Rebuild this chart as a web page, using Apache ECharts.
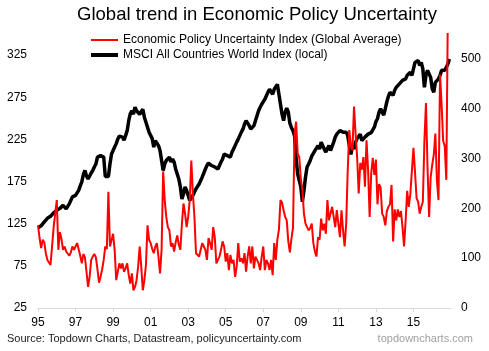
<!DOCTYPE html>
<html><head><meta charset="utf-8">
<script src="https://cdn.jsdelivr.net/npm/echarts@6/dist/echarts.min.js"></script>
<style>html,body{margin:0;padding:0;background:#fff}#c{width:489px;height:351px}</style>
</head><body><div id="c"></div>
<script>
// Monthly data, Jan 1995 – Dec 2016
const startYear = 1995;
const endYear = 2017;
const titleText = 'Global trend in Economic Policy Uncertainty';
const epuName = 'Economic Policy Uncertainty Index (Global Average)';
const msciName = 'MSCI All Countries World Index (local)';
const sourceText = 'Source: Topdown Charts, Datastream, policyuncertainty.com';
const brandText = 'topdowncharts.com';

// Economic Policy Uncertainty Index (left axis)
const epu = [
  123,108,96,106,103,90,82,80,76,98,121,121,        // 1995
  153,94,115,107,94,98,92,92,87,91,98,94,           // 1996
  98,102,100,87,78,89,85,68,50,62,82,86,            // 1997
  89,85,71,55,62,71,82,98,95,163,98,96,             // 1998
  113,94,58,56,78,72,78,68,72,78,64,54,             // 1999
  66,46,50,58,74,98,74,46,58,76,123,106,            // 2000
  102,95,90,98,102,86,66,94,187,153,133,121,        // 2001
  117,98,102,92,103,111,100,94,125,149,137,121,     // 2002
  133,153,200,161,133,90,88,86,94,102,98,94,        // 2003
  82,108,102,94,121,109,78,82,86,94,104,98,         // 2004
  80,90,70,88,78,82,62,74,102,80,84,78,             // 2005
  90,68,86,98,78,98,72,86,82,78,70,86,              // 2006
  98,70,82,78,70,82,64,102,82,106,118,153,          // 2007
  150,141,133,129,104,91,107,120,232,246,208,204,   // 2008
  178,165,137,125,121,117,120,125,102,92,86,109,    // 2009
  106,131,117,125,113,153,129,129,145,133,121,141,  // 2010
  125,109,141,117,98,125,189,236,216,212,264,232,   // 2011
  204,161,197,189,204,169,224,189,133,185,203,183,  // 2012
  201,148,172,168,137,133,123,140,145,148,171,104,  // 2013
  142,129,142,133,140,121,98,129,164,145,160,162,   // 2014
  215,186,155,151,137,145,151,223,268,191,133,180,  // 2015
  195,207,232,176,153,302,266,223,217,177,380,370   // 2016
];

// MSCI All Countries World Index, local currency (right axis)
const msci = [
  161,163,165,169,173,176,180,182,184,187,191,194,  // 1995
  196,196,200,203,206,209,199,204,209,216,223,224,  // 1996
  226,231,236,245,253,268,276,265,259,265,271,276,  // 1997
  283,289,303,304,306,305,303,264,262,264,289,309,  // 1998
  316,323,330,339,345,349,343,337,346,356,376,390,  // 1999
  396,389,403,396,393,389,393,399,383,373,363,353,  // 2000
  351,340,323,336,333,326,316,296,276,289,296,299,  // 2001
  303,293,299,293,279,269,259,243,219,229,243,236,  // 2002
  226,216,213,226,233,239,243,249,256,263,271,279,  // 2003
  286,291,289,286,289,283,283,279,286,293,299,309,  // 2004
  313,306,309,303,313,319,326,333,339,346,353,359,  // 2005
  369,376,379,366,359,359,366,376,386,396,403,409,  // 2006
  409,419,426,433,439,436,429,439,436,449,429,409,  // 2007
  389,376,393,401,393,371,362,356,345,299,269,256,  // 2008
  243,213,236,263,283,289,296,305,309,316,313,326,  // 2009
  319,333,326,319,313,316,326,316,319,333,343,349,  // 2010
  353,356,357,353,356,353,346,326,308,326,319,333,  // 2011
  340,343,349,336,339,343,346,349,353,352,352,363,  // 2012
  374,380,393,400,393,387,400,414,425,433,437,427,  // 2013
  437,443,445,450,453,457,453,460,467,470,473,467,  // 2014
  480,493,497,497,487,493,480,443,467,477,473,463,  // 2015
  440,433,453,457,460,467,477,480,477,483,490,500   // 2016
];

// Month positions (decimal years) – the category dimension
const monthPos = epu.map((_, i) => startYear + i / 12);

const font = '"Liberation Sans", Arial, sans-serif';
const chart = echarts.init(document.getElementById('c'));
chart.setOption({
  animation: false,
  backgroundColor: '#fff',
  title: [
    { text: titleText, left: 257, top: 5, padding: 0, textAlign: 'center',
      textStyle: { fontFamily: font, fontSize: 18.5, fontWeight: 'normal', color: '#000' } },
    { text: sourceText, left: 7, top: 333, padding: 0,
      textStyle: { fontFamily: font, fontSize: 11, fontWeight: 'normal', color: '#222' } },
    { text: brandText, right: 16, top: 333, padding: 0,
      textStyle: { fontFamily: font, fontSize: 11, fontWeight: 'normal', color: '#a0a0a0' } }
  ],
  legend: [
    { data: [{ name: epuName, icon: 'rect' }], left: 91, top: 34, padding: 0,
      itemWidth: 27, itemHeight: 2,
      textStyle: { fontFamily: font, fontSize: 12, color: '#000' } },
    { data: [{ name: msciName, icon: 'rect' }], left: 91, top: 49, padding: 0,
      itemWidth: 27, itemHeight: 4,
      textStyle: { fontFamily: font, fontSize: 12, color: '#000' } }
  ],
  grid: { left: 38, right: 38, top: 34, bottom: 43, containLabel: false },
  xAxis: {
    type: 'value', min: startYear, max: endYear, interval: 2,
    axisLine: { show: true, lineStyle: { color: '#d9d9d9', width: 1 } },
    axisTick: { show: true, length: 4, lineStyle: { color: '#d9d9d9' } },
    splitLine: { show: false },
    axisLabel: { showMaxLabel: false, margin: 9, fontFamily: font, fontSize: 12, color: '#000',
      formatter: v => String(v).slice(2) }
  },
  yAxis: [
    { type: 'value', min: 25, max: 350, interval: 50,
      axisLine: { show: false }, axisTick: { show: false }, splitLine: { show: false },
      axisLabel: { showMaxLabel: false, margin: 11, fontFamily: font, fontSize: 12, color: '#000' } },
    { type: 'value', min: 0, max: 550, interval: 100, position: 'right',
      axisLine: { show: false }, axisTick: { show: false }, splitLine: { show: false },
      axisLabel: { showMaxLabel: false, margin: 10, fontFamily: font, fontSize: 12, color: '#000' } }
  ],
  series: [
    { name: epuName, type: 'line', yAxisIndex: 0, showSymbol: false, z: 3, clip: true,
      color: '#ff0000', lineStyle: { color: '#ff0000', width: 2 },
      data: epu.map((v, i) => [monthPos[i], v]) },
    { name: msciName, type: 'line', yAxisIndex: 1, showSymbol: false, z: 2, clip: true,
      color: '#000000', lineStyle: { color: '#000000', width: 3.5 },
      data: msci.map((v, i) => [monthPos[i], v]) }
  ]
});
</script>
</body></html>
